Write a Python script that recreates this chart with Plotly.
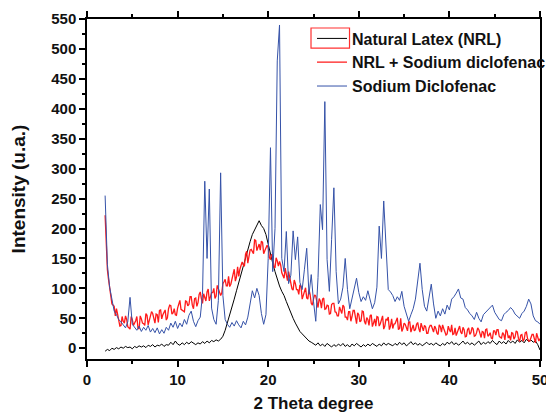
import numpy as np
import plotly.graph_objects as go

# 2-theta sampling grids (degrees)
two_theta = np.round(np.arange(2.0, 50.001, 0.25), 3).tolist()        # NRL and SD traces
two_theta_fine = np.round(np.arange(2.0, 50.001, 0.125), 3).tolist()  # NRL + SD trace

nrl = [
    -5, -2, -4, 0,  -2, 1, -1, 2,  0, 3, 1, 2,  -1, 3, 1, 4,
    2, 4, 1, 5,  3, 6, 2, 5,  4, 7, 3, 6,  5, 10, 6, 12,
    7, 5, 9, 6,  10, 7, 11, 8,  6, 9, 7, 11,  8, 12, 9, 13,
    11, 14, 12, 15,  20, 30, 42, 55,  68, 82, 96, 110,  125, 140, 152, 166,
    178, 190, 198, 207,  213, 205, 200, 190,  172, 160, 142, 128,  115, 104, 95, 88,
    78, 68, 58, 50,  42, 35, 28, 24,  20, 16, 12, 10,  8, 5, 9, 4,
    7, 3, 8, 5,  2, 6, 3, 7,  4, 8, 3, 6,  2, 7, 4, 8,
    5, 2, 6, 3,  7, 4, 8, 5,  3, 7, 4, 9,  5, 8, 6, 4,
    8, 5, 10, 6,  9, 4, 7, 11,  6, 9, 5, 8,  4, 7, 10, 6,
    8, 5, 9, 6,  4, 8, 5, 10,  7, 11, 6, 9,  5, 8, 12, 7,
    10, 6, 9, 5,  8, 12, 6, 10,  7, 11, 8, 13,  9, 6, 12, 8,
    11, 7, 13, 9,  12, 8, 14, 10,  13, 9, 15, 11,  14, 10, 12, 6,
    -3,
]

# one row per degree (8 readings per degree), 2 .. 49, then the value at 50
nrl_sd = [
    222, 165, 131, 115, 104, 88, 74, 71,
    70, 54, 66, 57, 46, 37, 38, 53,
    45, 42, 54, 48, 36, 34, 32, 53,
    48, 38, 41, 46, 53, 34, 32, 54,
    49, 42, 41, 38, 58, 55, 39, 46,
    50, 61, 58, 46, 42, 57, 56, 43,
    63, 64, 49, 56, 59, 64, 47, 51,
    66, 72, 71, 57, 59, 66, 56, 55,
    67, 76, 80, 65, 64, 62, 61, 79,
    78, 71, 73, 86, 86, 72, 66, 83,
    84, 70, 76, 90, 94, 83, 75, 91,
    86, 79, 94, 99, 79, 85, 93, 93,
    100, 83, 87, 105, 99, 94, 88, 92,
    108, 111, 115, 104, 104, 120, 103, 107,
    116, 122, 132, 112, 119, 136, 120, 132,
    140, 144, 139, 137, 157, 162, 142, 152,
    164, 165, 160, 158, 181, 180, 163, 169,
    174, 164, 179, 177, 158, 163, 167, 172,
    168, 152, 148, 157, 152, 137, 134, 151,
    146, 137, 145, 139, 126, 120, 117, 134,
    121, 113, 128, 116, 105, 99, 97, 114,
    108, 98, 98, 90, 106, 103, 82, 90,
    96, 101, 84, 82, 98, 90, 75, 72,
    82, 89, 87, 78, 68, 83, 79, 67,
    82, 84, 65, 66, 72, 71, 57, 58,
    73, 75, 75, 61, 60, 54, 54, 69,
    62, 58, 72, 69, 52, 52, 47, 61,
    61, 45, 53, 63, 63, 53, 41, 59,
    56, 44, 46, 62, 61, 45, 40, 51,
    48, 38, 54, 56, 36, 42, 49, 37,
    53, 52, 37, 41, 46, 54, 32, 37,
    49, 47, 52, 31, 37, 49, 33, 40,
    41, 46, 51, 31, 33, 50, 28, 33,
    42, 40, 35, 29, 44, 44, 27, 33,
    39, 29, 31, 40, 43, 33, 27, 42,
    34, 29, 38, 36, 25, 25, 34, 38,
    38, 31, 27, 37, 33, 25, 23, 39,
    36, 27, 39, 33, 27, 22, 24, 37,
    31, 27, 39, 23, 24, 34, 21, 27,
    33, 37, 27, 24, 35, 31, 19, 20,
    31, 34, 23, 26, 35, 32, 20, 21,
    26, 34, 31, 22, 18, 28, 27, 17,
    31, 32, 20, 22, 26, 17, 16, 29,
    29, 22, 31, 31, 20, 18, 17, 26,
    23, 14, 31, 28, 17, 21, 13, 26,
    25, 15, 19, 29, 27, 16, 11, 22,
    23, 12, 15, 26, 27, 16, 12, 12,
    18, 23, 23, 16, 9, 25, 19, 12,
    16,
]

sd = [
    255, 140, 102, 80,  62, 56, 48, 44,  38, 34, 44, 85,  40, 34, 30, 37,
    28, 35, 30, 38,  27, 33, 26, 34,  24, 31, 25, 35,  30, 42, 35, 45,
    33, 42, 36, 48,  40, 55, 62, 45,  36, 46, 52, 90,  279, 150, 266, 67,
    48, 40, 80, 293,  88, 48, 40, 35,  43, 37, 46, 39,  34, 45, 39, 52,
    72, 96, 84, 100,  88, 58, 40, 56,  150, 335, 128, 200,  480, 540, 150, 128,
    195, 108, 122, 196,  148, 186, 110, 98,  132, 167, 90, 123,  78, 45, 118, 240,
    198, 412, 148, 95,  182, 268, 128, 74,  82, 102, 150, 98,  66, 82, 96, 117,
    93, 78, 86, 80,  96, 78, 66, 76,  102, 204, 150, 246,  168, 98, 94, 88,
    78, 86, 80, 95,  70, 58, 45, 56,  66, 82, 112, 142,  98, 70, 62, 82,
    107, 74, 50, 62,  54, 66, 57, 72,  64, 82, 86, 92,  99, 84, 82, 68,
    64, 58, 54, 48,  60, 50, 44, 56,  60, 64, 67, 72,  60, 54, 48, 46,
    56, 60, 63, 68,  64, 57, 54, 50,  58, 62, 70, 82,  74, 54, 46, 44,
    40,
]

series_names = ["Natural Latex (NRL)", "NRL + Sodium diclofenac", "Sodium Diclofenac"]
series_colors = ["#000000", "#ff1a1a", "#3552a8"]
series_widths = [1, 1.3, 1]

x_ticks = [0, 10, 20, 30, 40, 50]
x_minor = [5, 15, 25, 35, 45]
y_ticks = [0, 50, 100, 150, 200, 250, 300, 350, 400, 450, 500, 550]
y_minor = [25, 75, 125, 175, 225, 275, 325, 375, 425, 475, 525]

FONT = "Arial, Liberation Sans, sans-serif"

fig = go.Figure()
for name, xs, ys, col, w in zip(series_names,
                                [two_theta, two_theta_fine, two_theta],
                                [nrl, nrl_sd, sd], series_colors, series_widths):
    fig.add_trace(go.Scatter(x=xs, y=ys, mode="lines", name=name,
                             line=dict(color=col, width=w)))

axis_common = dict(
    showgrid=False, zeroline=False, showline=True, linecolor="black", linewidth=1.5,
    ticks="outside", tickwidth=1.5, ticklen=6, tickcolor="black", automargin=False,
    tickfont=dict(family=FONT, size=15, color="#111", weight="bold"),
)

fig.update_xaxes(
    range=[0, 50], tickvals=x_ticks, mirror="ticks",
    minor=dict(tickvals=x_minor, ticks="outside", ticklen=3, tickwidth=1.5, tickcolor="black"),
    title=dict(text="2 Theta degree", font=dict(family=FONT, size=17, color="#111", weight="bold"), standoff=16),
    **axis_common,
)
fig.update_yaxes(
    range=[-18, 550], tickvals=y_ticks, mirror=True,
    minor=dict(tickvals=y_minor, ticks="outside", ticklen=3, tickwidth=1.5, tickcolor="black"),
    title=dict(text="Intensity (u.a.)", font=dict(family=FONT, size=19, color="#111", weight="bold"), standoff=28),
    **axis_common,
)

fig.update_layout(
    width=554, height=405,
    margin=dict(l=79, r=16, t=11, b=54),
    paper_bgcolor="white", plot_bgcolor="white",
    showlegend=True,
    legend=dict(x=0.4967, y=0.9926, xanchor="left", yanchor="top",
                bgcolor="rgba(0,0,0,0)", borderwidth=0,
                font=dict(family=FONT, size=16, color="#111", weight="bold"),
                tracegroupgap=0),
)

# red frame drawn around the first legend key, as in the original figure
fig.add_shape(type="rect", xref="paper", yref="paper",
              x0=0.4945, x1=0.5795, y0=0.9146, y1=0.9735,
              line=dict(color="#ff3030", width=1.2))

fig.write_html("out.html")
